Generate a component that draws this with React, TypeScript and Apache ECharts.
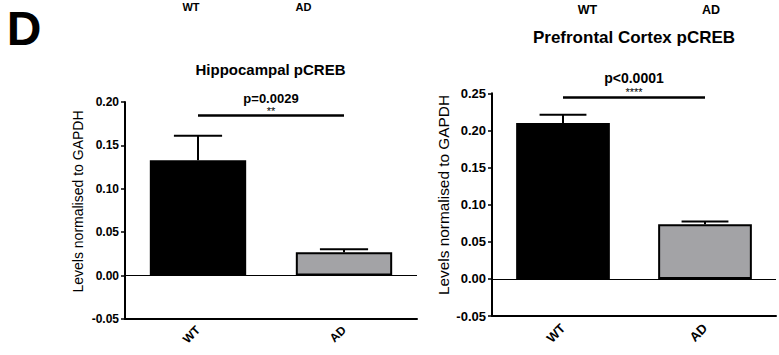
import React, { useEffect, useRef } from "react";
import * as echarts from "echarts";

// Groups and measured levels (mean and SEM), normalised to GAPDH
const groups = ["WT", "AD"];
const hippoMean = [0.133, 0.027];
const hippoSem = [0.028, 0.0035];
const pfcMean = [0.21, 0.0735];
const pfcSem = [0.011, 0.0037];
const barColors = ["#000000", "#a3a3a6"];

// Value-axis ranges
const hippoAxis = [-0.05, 0.2];
const pfcAxis = [-0.05, 0.25];
const tickStep = 0.05;

// Significance brackets
const hippoSig = { y: 0.1843, p: "p=0.0029", stars: "**" };
const pfcSig = { y: 0.2443, p: "p<0.0001", stars: "****" };

const FONT = "'Liberation Sans', Arial, Helvetica, sans-serif";

const fmt = (v: number) => (Math.abs(v) < 1e-9 ? 0 : v).toFixed(2);

function xAxisFor(idx: number, fontSize: number, margin: number) {
  return {
    type: "category",
    gridIndex: idx,
    data: groups,
    axisLine: { onZero: false, lineStyle: { color: "#000", width: 2 } },
    axisTick: { alignWithLabel: true, length: 4, lineStyle: { color: "#000", width: 1.5 } },
    axisLabel: {
      rotate: 45,
      margin,
      color: "#000",
      fontFamily: FONT,
      fontWeight: "bold",
      fontSize,
    },
  };
}

function yAxisFor(idx: number, range: number[], fontSize: number) {
  return {
    type: "value",
    gridIndex: idx,
    min: range[0],
    max: range[1],
    interval: tickStep,
    axisLine: { show: true, lineStyle: { color: "#000", width: 2 } },
    axisTick: { show: true, length: 4, lineStyle: { color: "#000", width: 1.5 } },
    splitLine: { show: false },
    axisLabel: {
      margin: 6,
      color: "#000",
      fontFamily: FONT,
      fontWeight: "bold",
      fontSize,
      formatter: fmt,
    },
  };
}

function barSeries(
  idx: number,
  means: number[],
  sig: { y: number; p: string; stars: string },
  pSize: number,
  pLine: number,
  sSize: number,
  sLine: number,
  dist: number
) {
  return {
    type: "bar",
    xAxisIndex: idx,
    yAxisIndex: idx,
    barWidth: "66%",
    data: means.map((v, i) => ({
      value: v,
      itemStyle: { color: barColors[i], borderColor: "#000", borderWidth: 2 },
    })),
    markLine: {
      silent: true,
      symbol: "none",
      animation: false,
      data: [
        {
          yAxis: 0,
          lineStyle: { color: "#000", width: 1, type: "solid" },
          label: { show: false },
        },
        [
          {
            coord: [groups[0], sig.y],
            lineStyle: { color: "#000", width: 2.5, type: "solid" },
            label: {
              show: true,
              position: "middle",
              distance: dist,
              formatter: `{p|${sig.p}}\n{s|${sig.stars}}`,
              rich: {
                p: {
                  fontFamily: FONT,
                  fontWeight: "bold",
                  fontSize: pSize,
                  lineHeight: pLine,
                  color: "#000",
                  align: "center",
                },
                s: {
                  fontFamily: FONT,
                  fontSize: sSize,
                  lineHeight: sLine,
                  color: "#000",
                  align: "center",
                },
              },
            },
          },
          { coord: [groups[1], sig.y] },
        ],
      ],
    },
  };
}

function errorSeries(idx: number, means: number[], sems: number[]) {
  return {
    type: "custom",
    xAxisIndex: idx,
    yAxisIndex: idx,
    z: 3,
    data: means.map((m, i) => [i, m, m + sems[i]]),
    encode: { x: 0, y: [1, 2] },
    renderItem: (_params: any, api: any) => {
      const x = api.value(0);
      const base = api.coord([x, api.value(1)]);
      const top = api.coord([x, api.value(2)]);
      const half = api.size([1, 0])[0] * 0.165;
      const style = { stroke: "#000", lineWidth: 2 };
      return {
        type: "group",
        children: [
          {
            type: "line",
            shape: { x1: base[0], y1: base[1], x2: top[0], y2: top[1] },
            style,
          },
          {
            type: "line",
            shape: { x1: top[0] - half, y1: top[1], x2: top[0] + half, y2: top[1] },
            style,
          },
        ],
      };
    },
  };
}

function label(text: string, x: number, y: number, size: number, weight = "bold", rotation = 0) {
  return {
    type: "text",
    x,
    y,
    rotation,
    style: {
      text,
      fill: "#000",
      font: `${weight} ${size}px ${FONT}`,
      textAlign: "center",
      textVerticalAlign: "middle",
    },
  };
}

export default function App() {
  const ref = useRef<HTMLDivElement>(null);

  useEffect(() => {
    if (!ref.current) return;
    const chart = echarts.init(ref.current, undefined, { renderer: "svg" });
    chart.setOption({
      animation: false,
      backgroundColor: "#fff",
      grid: [
        { left: 125, top: 102, width: 292, height: 217 },
        { left: 492, top: 93.3, width: 284, height: 222.7 },
      ],
      xAxis: [xAxisFor(0, 12, 9), xAxisFor(1, 13, 10)],
      yAxis: [yAxisFor(0, hippoAxis, 12), yAxisFor(1, pfcAxis, 13)],
      series: [
        barSeries(0, hippoMean, hippoSig, 13, 17, 11, 9, 0),
        errorSeries(0, hippoMean, hippoSem),
        barSeries(1, pfcMean, pfcSig, 14, 18, 11, 10, 1),
        errorSeries(1, pfcMean, pfcSem),
      ],
      graphic: [
        label("D", 24, 28, 48),
        label("WT", 191, 7, 11),
        label("AD", 303.5, 7, 11),
        label("WT", 587.5, 10, 12.5),
        label("AD", 711, 10, 12.5),
        label("Hippocampal pCREB", 270.5, 69, 15),
        label("Prefrontal Cortex pCREB", 634, 37, 17),
        label("Levels normalised to GAPDH", 78, 201.5, 14, "normal", Math.PI / 2),
        label("Levels normalised to GAPDH", 443, 195, 15.4, "normal", Math.PI / 2),
      ],
    });
    return () => chart.dispose();
  }, []);

  return (
    <div
      ref={ref}
      style={{ position: "absolute", left: 0, top: 0, width: 779, height: 355 }}
    />
  );
}
